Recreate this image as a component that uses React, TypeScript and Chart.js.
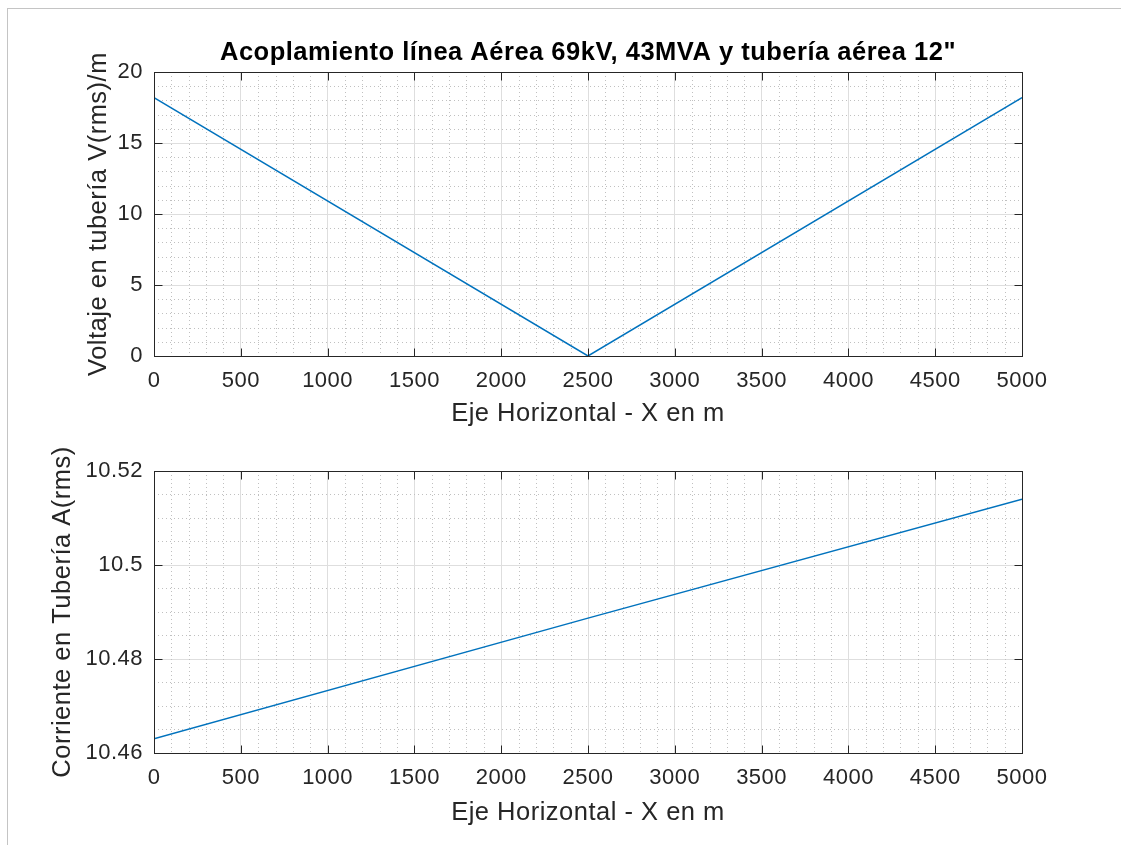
import React, { useEffect, useRef } from "react";
import { Chart, registerables } from "chart.js";

Chart.register(...registerables);

// ---- data ----
const distance = [0, 2500, 5000];
const voltage = [18.2, 0, 18.2];
const currentDistance = [0, 2500, 5000];
const current = [10.463, 10.4887, 10.514];

const xTicks = [0, 500, 1000, 1500, 2000, 2500, 3000, 3500, 4000, 4500, 5000];
const voltageTicks = [0, 5, 10, 15, 20];
const currentTicks = [10.46, 10.48, 10.5, 10.52];

const titleText = 'Acoplamiento línea Aérea 69kV, 43MVA y tubería aérea 12"';
const xLabel = "Eje Horizontal - X en m";
const voltageLabel = "Voltaje en tubería V(rms)/m";
const currentLabel = "Corriente en Tubería A(rms)";

const FONT = "'Liberation Sans', Arial, Helvetica, sans-serif";
const TEXT = "#262626";
const LINE = "#0072BD";
const TICK_SIZE = 22;
const LABEL_SIZE = 25.5;

type PanelCfg = {
  xs: number[];
  ys: number[];
  yTicks: number[];
  yMin: number;
  yMax: number;
  yMinorStep: number;
  yLabel: string;
  yTitlePad: number;
  xTitlePad: number;
  padTop: number;
  padBottom: number;
  title?: string;
};

const fmt = (v: number) => String(Number(v.toFixed(4)));

function makePlugin(cfg: PanelCfg) {
  return {
    id: "matlabAxes",
    beforeDraw(chart: any) {
      (chart.ctx as any).letterSpacing = "0.5px";
    },
    afterDraw(chart: any) {
      (chart.ctx as any).letterSpacing = "0px";
    },
    beforeDatasetsDraw(chart: any) {
      const { ctx, chartArea } = chart;
      const xs = chart.scales.x;
      const ys = chart.scales.y;
      ctx.save();
      ctx.beginPath();
      ctx.rect(chartArea.left, chartArea.top, chartArea.right - chartArea.left, chartArea.bottom - chartArea.top);
      ctx.clip();
      ctx.strokeStyle = "#c0c0c0";
      ctx.lineWidth = 1;
      ctx.setLineDash([1, 3]);
      // minor x grid
      for (let v = xs.min; v <= xs.max + 1e-9; v += 100) {
        if (Math.abs(v / 500 - Math.round(v / 500)) < 1e-6) continue;
        const px = Math.round(xs.getPixelForValue(v)) + 0.5;
        ctx.beginPath();
        ctx.moveTo(px, chartArea.top);
        ctx.lineTo(px, chartArea.bottom);
        ctx.stroke();
      }
      // minor y grid
      const majorStep = cfg.yTicks[1] - cfg.yTicks[0];
      const n = Math.round((cfg.yMax - cfg.yMin) / cfg.yMinorStep);
      for (let i = 0; i <= n; i++) {
        const v = cfg.yMin + i * cfg.yMinorStep;
        const r = (v - cfg.yMin) / majorStep;
        if (Math.abs(r - Math.round(r)) < 1e-6) continue;
        const py = Math.round(ys.getPixelForValue(v)) + 0.5;
        ctx.beginPath();
        ctx.moveTo(chartArea.left, py);
        ctx.lineTo(chartArea.right, py);
        ctx.stroke();
      }
      ctx.restore();
    },
    afterDatasetsDraw(chart: any) {
      const { ctx, chartArea } = chart;
      const xs = chart.scales.x;
      const ys = chart.scales.y;
      const L = Math.round(chartArea.left) + 0.5;
      const R = Math.round(chartArea.right) + 0.5;
      const T = Math.round(chartArea.top) + 0.5;
      const B = Math.round(chartArea.bottom) + 0.5;
      const tl = 8;
      ctx.save();
      ctx.strokeStyle = TEXT;
      ctx.lineWidth = 1;
      ctx.setLineDash([]);
      ctx.strokeRect(L, T, R - L, B - T);
      ctx.beginPath();
      for (const v of xTicks) {
        const px = Math.round(xs.getPixelForValue(v)) + 0.5;
        ctx.moveTo(px, B);
        ctx.lineTo(px, B - tl);
        ctx.moveTo(px, T);
        ctx.lineTo(px, T + tl);
      }
      for (const v of cfg.yTicks) {
        const py = Math.round(ys.getPixelForValue(v)) + 0.5;
        ctx.moveTo(L, py);
        ctx.lineTo(L + tl, py);
        ctx.moveTo(R, py);
        ctx.lineTo(R - tl, py);
      }
      ctx.stroke();
      if (cfg.title) {
        ctx.fillStyle = "#000";
        ctx.font = `bold ${LABEL_SIZE}px ${FONT}`;
        (ctx as any).letterSpacing = "0.5px";
        ctx.textAlign = "center";
        ctx.textBaseline = "middle";
        ctx.fillText(cfg.title, (chartArea.left + chartArea.right) / 2, chartArea.top - 19);
      }
      ctx.restore();
    },
  };
}

function Panel({ cfg, top, height }: { cfg: PanelCfg; top: number; height: number }) {
  const ref = useRef<HTMLCanvasElement | null>(null);
  useEffect(() => {
    if (!ref.current) return;
    const chart = new Chart(ref.current, {
      type: "line",
      data: {
        datasets: [
          {
            data: cfg.xs.map((x, i) => ({ x, y: cfg.ys[i] })),
            borderColor: LINE,
            borderWidth: 1.5,
            pointRadius: 0,
            fill: false,
            tension: 0,
          },
        ],
      },
      options: {
        animation: false,
        responsive: false,
        devicePixelRatio: 1,
        layout: { padding: { left: 0, right: 99, top: cfg.padTop, bottom: cfg.padBottom } },
        plugins: { legend: { display: false }, tooltip: { enabled: false }, title: { display: false } },
        scales: {
          x: {
            type: "linear",
            min: 0,
            max: 5000,
            afterBuildTicks: (s: any) => {
              s.ticks = xTicks.map((v) => ({ value: v }));
            },
            afterFit: (s: any) => {
              s.height = 80;
            },
            ticks: {
              callback: (v: any) => fmt(Number(v)),
              color: TEXT,
              font: { family: FONT, size: TICK_SIZE },
              padding: 12,
              maxRotation: 0,
              autoSkip: false,
            },
            grid: { color: "#dedede", lineWidth: 1, drawTicks: false },
            border: { display: true, color: TEXT, width: 1 },
            title: {
              display: true,
              text: xLabel,
              color: TEXT,
              font: { family: FONT, size: LABEL_SIZE },
              padding: { top: 0, bottom: cfg.xTitlePad },
            },
          },
          y: {
            type: "linear",
            min: cfg.yMin,
            max: cfg.yMax,
            afterBuildTicks: (s: any) => {
              s.ticks = cfg.yTicks.map((v) => ({ value: v }));
            },
            afterFit: (s: any) => {
              s.width = 154;
            },
            ticks: {
              callback: (v: any) => fmt(Number(v)),
              color: TEXT,
              font: { family: FONT, size: TICK_SIZE },
              padding: 11,
              autoSkip: false,
            },
            grid: { color: "#dedede", lineWidth: 1, drawTicks: false },
            border: { display: true, color: TEXT, width: 1 },
            title: {
              display: true,
              text: cfg.yLabel,
              color: TEXT,
              font: { family: FONT, size: LABEL_SIZE },
              padding: { top: cfg.yTitlePad, bottom: 0 },
            },
          },
        },
      },
      plugins: [makePlugin(cfg)],
    } as any);
    return () => chart.destroy();
  }, []);
  return (
    <canvas
      ref={ref}
      width={1121}
      height={height}
      style={{ position: "absolute", left: 0, top, width: 1121, height }}
    />
  );
}

export default function App() {
  const voltageCfg: PanelCfg = {
    xs: distance,
    ys: voltage,
    yTicks: voltageTicks,
    yMin: 0,
    yMax: 20,
    yMinorStep: 1,
    yLabel: voltageLabel,
    yTitlePad: 84,
    xTitlePad: 7,
    padTop: 72,
    padBottom: 4,
    title: titleText,
  };
  const currentCfg: PanelCfg = {
    xs: currentDistance,
    ys: current,
    yTicks: currentTicks,
    yMin: 10.46,
    yMax: 10.52,
    yMinorStep: 0.005,
    yLabel: currentLabel,
    yTitlePad: 48,
    xTitlePad: 5,
    padTop: 31,
    padBottom: 12,
  };
  return (
    <div
      style={{
        position: "absolute",
        left: 0,
        top: 0,
        width: 1121,
        height: 845,
        overflow: "hidden",
        background: "#fff",
      }}
    >
      <div
        style={{
          position: "absolute",
          left: 7,
          top: 8,
          width: 1400,
          height: 1000,
          border: "1px solid #c4c4c4",
        }}
      />
      <Panel cfg={voltageCfg} top={0} height={440} />
      <Panel cfg={currentCfg} top={440} height={405} />
    </div>
  );
}
